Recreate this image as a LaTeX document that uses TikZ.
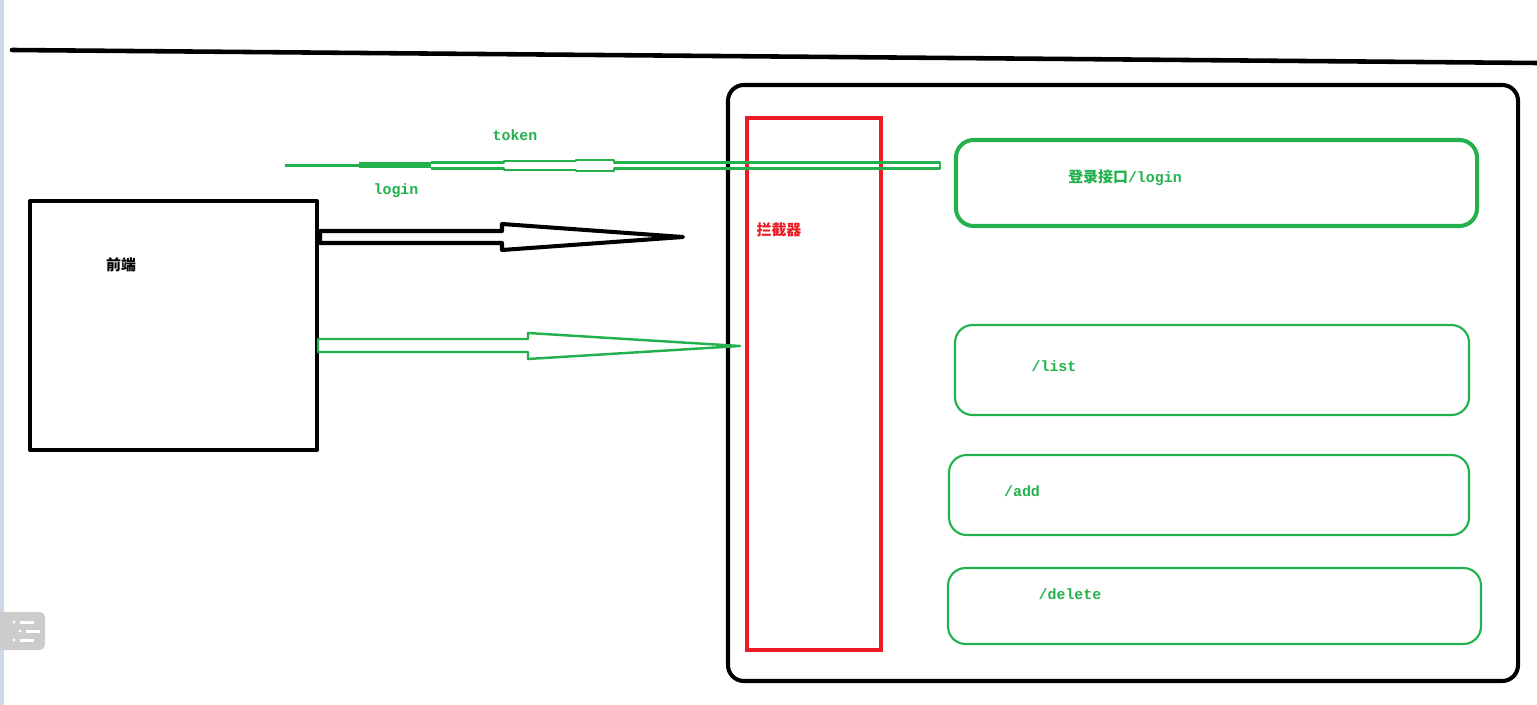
\documentclass[tikz,border=0pt]{standalone}
\usepackage{fontspec}
\setmainfont{Liberation Mono}
\newfontfamily\cjk{Noto Sans CJK SC}
\definecolor{paintgreen}{RGB}{34,177,76}
\definecolor{paintred}{RGB}{237,28,36}
\definecolor{edgeblue}{RGB}{205,215,230}
\definecolor{btngray}{RGB}{204,204,204}
\tikzset{
  pen/.style={line width=2.3pt, line join=round},
  greenpen/.style={draw=paintgreen, line width=1.4pt, line join=round},
  apibox/.style={draw=paintgreen, line width=1.2pt, rounded corners=10pt},
  label/.style={font=\fontsize{8.5}{10}\selectfont\bfseries, inner sep=0pt},
}
\begin{document}
\begin{tikzpicture}[x=0.02cm, y=-0.02cm]
\useasboundingbox (0,0) rectangle (1537,705);
% screen edge and side button
\fill[edgeblue] (0,0) rectangle (4,705);
\fill[btngray, rounded corners=3pt] (-5,612) rectangle (45,650);
\foreach \yy/\xx in {622/14, 631/20, 640/14} {
  \fill[white] (\xx,\yy) circle (1.6);
  \fill[white] (\xx+6,\yy-1.5) rectangle (\xx+20,\yy+1.5);
}

% top stroke
\draw[pen, line width=2.6pt, line cap=round] (12,50) -- (1537,63);

% front end
\draw[pen] (30,201) rectangle (317,450);
\node[label] (qianduan) at (121,265) {\cjk 前端};

% server frame and interceptor
\draw[pen, rounded corners=9pt] (728,85) rectangle (1518,681);
\draw[draw=paintred, line width=2.3pt] (747,118) rectangle (881,650);
\node[label, text=paintred] (lanjie) at (779,230) {\cjk 拦截器};

% api boxes
\draw[apibox, line width=2.3pt] (956,140) rectangle (1477,226);
\node[label, text=paintgreen] (login) at (1125,178) {{\cjk 登录接口}/login};
\draw[apibox] (955,325) rectangle (1469,415);
\node[label, text=paintgreen] (list) at (1054,366) {/list};
\draw[apibox] (949,455) rectangle (1469,535);
\node[label, text=paintgreen] (add) at (1022,491) {/add};
\draw[apibox] (948,568) rectangle (1481,644);
\node[label, text=paintgreen] (delete) at (1070,594) {/delete};

% request arrow (black)
\draw[pen] (320,231) -- (502,231) -- (502,224) -- (683,237)
  -- (502,250) -- (502,243) -- (320,243) -- cycle;

% request arrow with token (green)
\draw[greenpen] (318,339) -- (528,339) -- (528,333) -- (740,346)
  -- (528,359) -- (528,352) -- (318,352) -- cycle;

% token back from login
\draw[draw=paintgreen, line width=1.5pt] (285,165.5) -- (359,165.5);
\fill[paintgreen] (359,162.5) rectangle (431,168.5);
\draw[greenpen, line width=1.3pt] (431,162.5) -- (504,162.5) -- (504,161) -- (576,161)
  -- (576,160) -- (614,160) -- (614,162.5) -- (940,162.5) -- (940,168.5)
  -- (614,168.5) -- (614,171) -- (576,171) -- (576,170) -- (504,170)
  -- (504,168.5) -- (431,168.5);
\node[label, text=paintgreen] (token) at (515,135) {token};
\node[label, text=paintgreen] (loginlbl) at (396,191) {login};
\end{tikzpicture}
\end{document}
